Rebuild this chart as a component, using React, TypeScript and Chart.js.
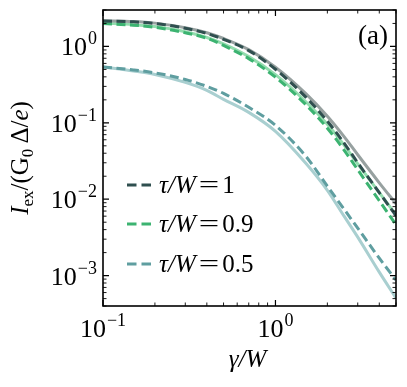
import React, { useEffect, useRef } from "react";
import { Chart, registerables } from "chart.js";
Chart.register(...registerables);

// gamma / W values (x)
const gamma = [0.1, 0.15, 0.2, 0.3, 0.4, 0.5, 0.7, 1, 1.5, 2, 2.5, 3, 4, 5];
// I_ex / (G0 Δ / e)
const exact1 = [2.17, 2.12, 2.02, 1.76, 1.51, 1.27, 0.908, 0.535, 0.241, 0.122, 0.066, 0.0382, 0.0164, 0.00873];
const approx1 = [2.15, 2.1, 2.0, 1.73, 1.48, 1.24, 0.881, 0.503, 0.217, 0.105, 0.0543, 0.03, 0.0122, 0.00608];
const exact09 = [2.02, 1.93, 1.82, 1.56, 1.31, 1.08, 0.735, 0.427, 0.189, 0.0959, 0.0511, 0.0291, 0.0122, 0.00627];
const approx09 = [1.99, 1.9, 1.78, 1.51, 1.28, 1.03, 0.693, 0.396, 0.173, 0.085, 0.044, 0.0243, 0.00955, 0.00464];
const exact05 = [0.54, 0.478, 0.43, 0.338, 0.266, 0.203, 0.137, 0.0774, 0.0296, 0.0131, 0.006, 0.00319, 0.00111, 0.000508];
const approx05 = [0.54, 0.493, 0.451, 0.37, 0.3, 0.243, 0.16, 0.0927, 0.0365, 0.0148, 0.0074, 0.00418, 0.00169, 0.000873];

const legendValues = ["1", "0.9", "0.5"];
const xMajorExps = [-1, 0];
const yMajorExps = [-3, -2, -1, 0];
const X_MIN = 0.1, X_MAX = 5, Y_MIN = 4e-4, Y_MAX = 3;

const SERIF = `"Liberation Serif", "Times New Roman", Times, serif`;
const C_DARK = "#2f4f4f", C_GREEN = "#3cb371", C_TEAL = "#5f9ea0";

const pts = (arr: number[]) => arr.map((v, i) => ({ x: gamma[i], y: v }));

function drawPow(ctx: CanvasRenderingContext2D, e: number, x: number, baseline: number, align: "right" | "center") {
  const big = `26px ${SERIF}`, small = `18px ${SERIF}`;
  const expStr = e < 0 ? "\u2212" + Math.abs(e) : String(e);
  ctx.font = big; const w1 = ctx.measureText("10").width;
  ctx.font = small; const w2 = ctx.measureText(expStr).width;
  const total = w1 + 1 + w2;
  const x0 = align === "right" ? x - total : x - total / 2;
  ctx.textAlign = "left"; ctx.textBaseline = "alphabetic";
  ctx.font = big; ctx.fillText("10", x0, baseline);
  ctx.font = small; ctx.fillText(expStr, x0 + w1 + 1, baseline - 11);
}

type Piece = [string, string, number?];
function drawPieces(ctx: CanvasRenderingContext2D, pieces: Piece[], x: number, baseline: number) {
  let cx = x;
  for (const [t, f, dy] of pieces) {
    ctx.font = f;
    ctx.fillText(t, cx, baseline + (dy || 0));
    cx += ctx.measureText(t).width;
  }
  return cx;
}
function piecesWidth(ctx: CanvasRenderingContext2D, pieces: Piece[]) {
  let w = 0;
  for (const [t, f] of pieces) { ctx.font = f; w += ctx.measureText(t).width; }
  return w;
}

const overlay = {
  id: "overlay",
  afterDatasetsDraw(chart: any) {
    const { ctx, chartArea: a, scales } = chart;
    const xs = scales.x, ys = scales.y;
    ctx.save();
    ctx.fillStyle = "#000";
    ctx.strokeStyle = "#000";
    for (let d = -2; d <= 1; d++) {
      for (let m = 1; m <= 9; m++) {
        const v = m * Math.pow(10, d);
        if (v < X_MIN * 0.999 || v > X_MAX * 1.001) continue;
        const px = xs.getPixelForValue(v);
        const len = m === 1 ? 6 : 3.5;
        ctx.lineWidth = m === 1 ? 1.2 : 0.9;
        ctx.beginPath();
        ctx.moveTo(px, a.bottom); ctx.lineTo(px, a.bottom - len);
        ctx.moveTo(px, a.top); ctx.lineTo(px, a.top + len);
        ctx.stroke();
      }
    }
    for (let d = -4; d <= 0; d++) {
      for (let m = 1; m <= 9; m++) {
        const v = m * Math.pow(10, d);
        if (v < Y_MIN * 0.999 || v > Y_MAX * 1.001) continue;
        const py = ys.getPixelForValue(v);
        const len = m === 1 ? 6 : 3.5;
        ctx.lineWidth = m === 1 ? 1.2 : 0.9;
        ctx.beginPath();
        ctx.moveTo(a.left, py); ctx.lineTo(a.left + len, py);
        ctx.moveTo(a.right, py); ctx.lineTo(a.right - len, py);
        ctx.stroke();
      }
    }
    ctx.lineWidth = 1.6;
    ctx.strokeRect(a.left, a.top, a.right - a.left, a.bottom - a.top);

    for (const e of yMajorExps) {
      const py = ys.getPixelForValue(Math.pow(10, e));
      drawPow(ctx, e, a.left - 6, py + 9, "right");
    }
    for (const e of xMajorExps) {
      const px = xs.getPixelForValue(Math.pow(10, e));
      drawPow(ctx, e, px, a.bottom + 31, "center");
    }

    ctx.textAlign = "center";
    ctx.font = `italic 25px ${SERIF}`;
    ctx.fillText("\u03b3/W", (a.left + a.right) / 2 - 2, 367);

    ctx.save();
    ctx.translate(28, (a.top + a.bottom) / 2);
    ctx.rotate(-Math.PI / 2);
    ctx.textAlign = "left";
    const it = `italic 25px ${SERIF}`, rm = `25px ${SERIF}`, sub = `17px ${SERIF}`;
    const title: Piece[] = [["I", it], ["ex", sub, 5], ["/(G", rm], ["0", sub, 5], ["\u2009\u0394/", rm], ["e", it], [")", rm]];
    const tw = piecesWidth(ctx, title);
    drawPieces(ctx, title, -tw / 2, 0);
    ctx.restore();

    ctx.textAlign = "right";
    ctx.font = `27px ${SERIF}`;
    ctx.fillText("(a)", 388, 44);

    const colors = [C_DARK, C_GREEN, C_TEAL];
    const ly = [185, 224, 264];
    for (let i = 0; i < 3; i++) {
      ctx.strokeStyle = colors[i];
      ctx.lineWidth = 3;
      ctx.setLineDash([9.5, 5]);
      ctx.beginPath();
      ctx.moveTo(127, ly[i]); ctx.lineTo(153, ly[i]);
      ctx.stroke();
      ctx.setLineDash([]);
      ctx.fillStyle = "#000";
      ctx.textAlign = "left";
      const f = `italic 25px ${SERIF}`, r = `25px ${SERIF}`;
      const end = drawPieces(ctx, [["\u03c4", f], ["/", f], ["W", f]], 159, ly[i] + 8);
      ctx.font = r;
      const sx = 1.45;
      ctx.save();
      ctx.translate(end + 3, ly[i] + 8);
      ctx.scale(sx, 1);
      ctx.fillText("=", 0, 0);
      ctx.restore();
      const ew = ctx.measureText("=").width * sx;
      ctx.fillText(legendValues[i], end + 3 + ew + 3, ly[i] + 8);
    }
    ctx.restore();
  },
};

export default function App() {
  const ref = useRef<HTMLCanvasElement | null>(null);
  useEffect(() => {
    if (!ref.current) return;
    const solid = (data: number[], color: string) => ({
      data: pts(data), borderColor: color, borderWidth: 3, pointRadius: 0,
      cubicInterpolationMode: "monotone" as const, order: 2, fill: false,
    });
    const dashed = (data: number[], color: string) => ({
      data: pts(data), borderColor: color, borderWidth: 3, pointRadius: 0, borderDash: [9, 4.5],
      cubicInterpolationMode: "monotone" as const, order: 1, fill: false,
    });
    const chart = new Chart(ref.current, {
      type: "line",
      data: {
        datasets: [
          dashed(approx1, C_DARK),
          dashed(approx09, C_GREEN),
          dashed(approx05, C_TEAL),
          solid(exact1, "#97a1a0"),
          solid(exact09, "#93dcae"),
          solid(exact05, "#a9cfd0"),
        ] as any,
      },
      options: {
        animation: false,
        responsive: false,
        devicePixelRatio: 1,
        layout: { padding: { left: 103, right: 11, top: 10, bottom: 81 } },
        plugins: { legend: { display: false }, tooltip: { enabled: false } },
        scales: {
          x: { type: "logarithmic", min: X_MIN, max: X_MAX, display: false },
          y: { type: "logarithmic", min: Y_MIN, max: Y_MAX, display: false },
        },
      },
      plugins: [overlay],
    });
    return () => chart.destroy();
  }, []);
  return (
    <div style={{ position: "fixed", left: 0, top: 0, width: 407, height: 387, background: "#fff" }}>
      <canvas ref={ref} width={407} height={387} />
    </div>
  );
}
